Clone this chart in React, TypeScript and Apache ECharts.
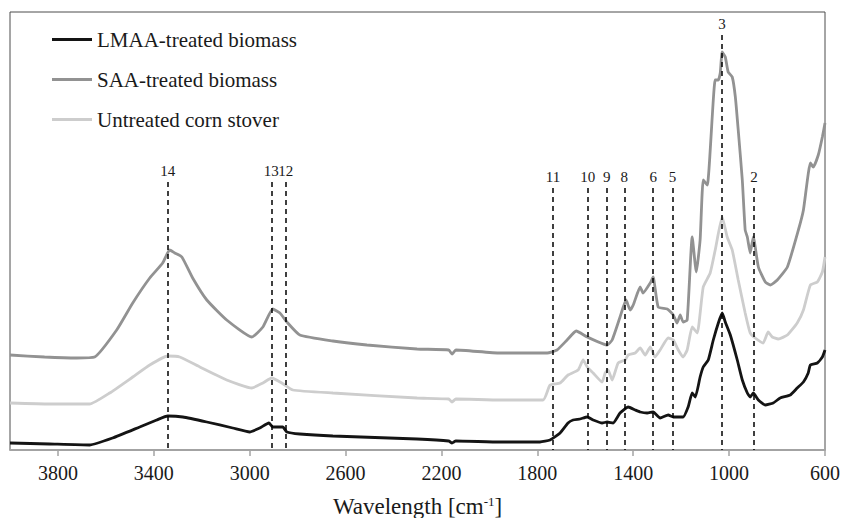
import React, { useEffect, useRef } from "react";
import * as echarts from "echarts";

const FONT = "Liberation Serif";

const seriesNames = ["LMAA-treated biomass", "SAA-treated biomass", "Untreated corn stover"];
const seriesColors = ["#141414", "#929292", "#cdcdcd"];

// [wavenumber cm-1, absorbance (arbitrary units)]
const lmaa: [number, number][] = [
  [4000, 7], [3835, 6], [3668, 5], [3572, 12], [3459, 23], [3388, 30], [3342, 34], [3279, 33],
  [3179, 28], [3071, 22], [3000, 18], [2958, 22], [2920, 27], [2904, 23], [2862, 23], [2845, 18],
  [2791, 16], [2653, 14], [2302, 11], [2170, 9], [2156, 7], [2140, 9], [1956, 8], [1789, 8],
  [1747, 10], [1705, 17], [1672, 27], [1651, 30], [1622, 31], [1592, 33], [1567, 30], [1530, 27],
  [1509, 28], [1484, 27], [1455, 37], [1421, 43], [1392, 40], [1371, 38], [1342, 37], [1317, 38],
  [1288, 32], [1254, 35], [1233, 33], [1192, 33], [1171, 43], [1154, 57], [1141, 53], [1121, 73],
  [1108, 83], [1087, 90], [1066, 110], [1045, 127], [1029, 137], [1016, 128], [995, 115], [966, 90],
  [945, 70], [924, 57], [912, 53], [899, 57], [878, 50], [849, 45], [816, 47], [787, 52], [745, 55],
  [716, 62], [690, 68], [670, 77], [661, 85], [632, 87], [611, 93], [600, 100],
];

const saa: [number, number][] = [
  [4000, 95], [3856, 93], [3722, 92], [3647, 93], [3555, 120], [3488, 147], [3417, 172], [3363, 187],
  [3334, 200], [3313, 197], [3283, 193], [3238, 172], [3179, 150], [3096, 130], [2991, 113],
  [2945, 123], [2904, 141], [2874, 137], [2845, 128], [2791, 115], [2653, 109], [2511, 105],
  [2302, 101], [2170, 100], [2156, 96], [2140, 100], [1956, 97], [1759, 97], [1718, 100], [1676, 110],
  [1638, 119], [1592, 113], [1509, 105], [1488, 110], [1455, 133], [1430, 150], [1413, 140],
  [1400, 145], [1371, 163], [1359, 157], [1329, 167], [1317, 173], [1296, 143], [1258, 141],
  [1233, 135], [1217, 127], [1204, 135], [1192, 128], [1175, 130], [1154, 213], [1137, 178],
  [1121, 210], [1108, 270], [1091, 265], [1058, 370], [1045, 370], [1037, 377], [1029, 398],
  [1016, 393], [1004, 378], [987, 373], [974, 353], [962, 320], [945, 270], [933, 220], [924, 213],
  [912, 197], [899, 213], [878, 183], [849, 168], [828, 165], [799, 170], [757, 183], [711, 220],
  [690, 240], [661, 287], [649, 283], [628, 295], [611, 313], [600, 327],
];

const untreated: [number, number][] = [
  [4000, 47], [3835, 46], [3668, 46], [3584, 57], [3488, 73], [3417, 85], [3342, 94], [3292, 93],
  [3208, 83], [3096, 70], [2991, 62], [2945, 67], [2908, 72], [2866, 67], [2820, 60], [2653, 57],
  [2302, 52], [2170, 51], [2156, 48], [2140, 51], [1956, 50], [1776, 50], [1747, 65], [1705, 67],
  [1672, 75], [1630, 80], [1609, 90], [1592, 83], [1567, 77], [1530, 68], [1517, 77], [1505, 80],
  [1488, 70], [1463, 87], [1434, 90], [1421, 95], [1392, 97], [1371, 102], [1350, 95], [1329, 103],
  [1309, 93], [1288, 100], [1254, 112], [1233, 110], [1212, 100], [1192, 93], [1175, 100],
  [1154, 123], [1133, 117], [1108, 163], [1079, 177], [1058, 200], [1029, 233], [1008, 213],
  [987, 200], [962, 170], [933, 137], [912, 117], [891, 112], [858, 107], [837, 118], [820, 113],
  [795, 111], [757, 115], [716, 127], [690, 140], [661, 165], [632, 168], [611, 178], [600, 193],
];

const peakLabels = ["14", "13", "12", "11", "10", "9", "8", "6", "5", "3", "2"];
const peakWaves = [3342, 2910, 2850, 1735, 1590, 1510, 1437, 1317, 1236, 1030, 896];
const peakTops = [268, 268, 268, 262, 262, 262, 262, 262, 262, 415, 262];

const tickValues = [3800, 3400, 3000, 2600, 2200, 1800, 1400, 1000, 600];

export default function App() {
  const ref = useRef<HTMLDivElement>(null);

  useEffect(() => {
    if (!ref.current) return;
    const chart = echarts.init(ref.current, null, { renderer: "svg" });

    const markData = peakLabels.map((lab, i) => [
      { name: lab, coord: [peakWaves[i], peakTops[i]] },
      { coord: [peakWaves[i], 0] },
    ]);

    const datasets = [lmaa, saa, untreated];

    chart.setOption({
      animation: false,
      grid: {
        left: 10,
        right: 18,
        top: 12,
        bottom: 68,
        show: true,
        borderColor: "#4d4d4d",
        borderWidth: 1,
        containLabel: false,
        outerBoundsMode: "none",
      },
      legend: {
        orient: "vertical",
        left: 52,
        top: 29,
        padding: 0,
        icon: "rect",
        itemWidth: 40,
        itemHeight: 3,
        itemGap: 19,
        data: seriesNames,
        textStyle: { fontFamily: FONT, fontSize: 21, color: "#1a1a1a" },
      },
      xAxis: {
        type: "value",
        inverse: true,
        min: 600,
        max: 4000,
        interval: 400,
        splitLine: { show: false },
        axisLine: { lineStyle: { color: "#a3a3a3", width: 2 } },
        axisTick: {
          show: true,
          length: 6,
          customValues: tickValues,
          lineStyle: { color: "#a3a3a3", width: 1.5 },
        },
        axisLabel: {
          customValues: tickValues,
          margin: 13,
          fontFamily: FONT,
          fontSize: 20,
          color: "#1a1a1a",
          formatter: (v: number) => String(v),
        },
        name: "Wavelength [cm{sup|-1}]",
        nameLocation: "middle",
        nameGap: 45,
        nameTextStyle: {
          fontFamily: FONT,
          fontSize: 23,
          color: "#1a1a1a",
          rich: {
            sup: { fontFamily: FONT, fontSize: 13, color: "#1a1a1a", padding: [0, 0, 10, 0] },
          },
        },
      },
      yAxis: { type: "value", min: 0, max: 438, show: false },
      series: seriesNames.map((name, i) => ({
        name,
        type: "line",
        data: datasets[i],
        symbol: "none",
        silent: true,
        smooth: 0.15,
        lineStyle: { color: seriesColors[i], width: 2.8 },
        itemStyle: { color: seriesColors[i] },
        z: 3 - i,
        ...(i === 0
          ? {
              markLine: {
                silent: true,
                symbol: ["none", "none"],
                lineStyle: { color: "#000", type: [5, 4], width: 1.5 },
                label: {
                  show: true,
                  position: "start",
                  formatter: "{b}",
                  distance: 4,
                  fontFamily: FONT,
                  fontSize: 15,
                  color: "#1a1a1a",
                },
                data: markData,
              },
            }
          : {}),
      })),
    });

    return () => chart.dispose();
  }, []);

  return (
    <div
      ref={ref}
      style={{ position: "absolute", left: 0, top: 0, width: 843, height: 518 }}
    />
  );
}
